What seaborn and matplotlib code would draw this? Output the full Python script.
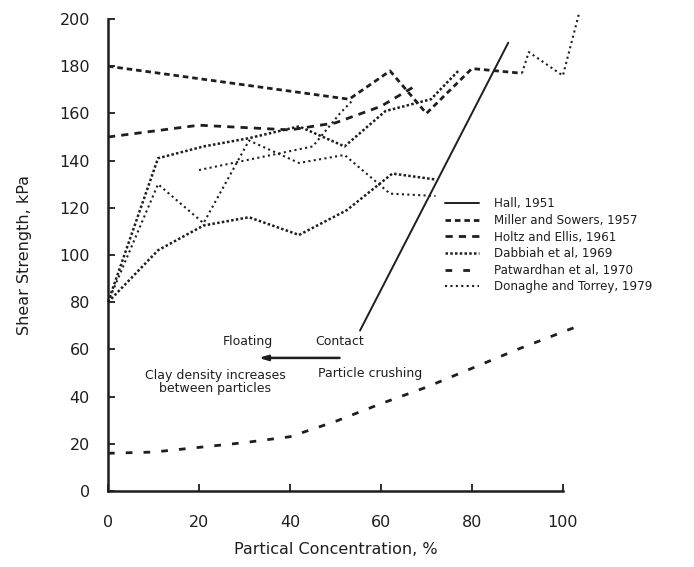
import numpy as np
import pandas as pd
import matplotlib
matplotlib.use("Agg")
import matplotlib.pyplot as plt
import seaborn as sns

# values (particle concentration %, shear strength kPa)
hall_x = [55.4, 88]
hall_y = [68, 190]

miller_x = [0, 53, 62, 70, 80, 91]
miller_y = [180, 166, 178, 160, 179, 177]

holtz_x = [0, 20, 40, 50, 60, 67]
holtz_y = [150, 155, 153, 156, 163, 171]

dabbiah_a_x = [0, 11, 21, 31, 42, 52, 61, 71, 77]
dabbiah_a_y = [80, 141, 146, 149.5, 154.5, 146, 161, 166, 178]
dabbiah_b_x = [0, 11, 21, 31, 42, 52.5, 62.5, 72]
dabbiah_b_y = [80, 102, 112.5, 116, 108.5, 119, 134.5, 132]

patwardhan_x = [0, 10, 20, 30, 40, 50, 60, 70, 80, 90, 103.5]
patwardhan_y = [16, 16.5, 18.5, 20.5, 23, 29.5, 37, 44, 52, 60, 70]

donaghe_a_x = [0, 11, 21, 31, 42, 52, 62, 72]
donaghe_a_y = [80, 130, 113.5, 148.5, 139, 142.4, 126, 125]
donaghe_b_x = [20, 45, 51, 54]
donaghe_b_y = [136, 146, 160, 166]
donaghe_c_x = [91, 92.5, 100, 103.5]
donaghe_c_y = [177, 186, 176, 202]

x_ticks = [0, 20, 40, 60, 80, 100]
y_ticks = [0, 20, 40, 60, 80, 100, 120, 140, 160, 180, 200]

sns.set_style("ticks")
plt.rcParams["font.family"] = ["DejaVu Sans"]

fig = plt.figure(figsize=(6.94, 5.67), dpi=100)
ax = fig.add_axes([0.1556, 0.134, 0.6555, 0.8325])

ink = "#1e1e1e"
# (label, list of segments, linestyle, linewidth)
series = [
    ("Hall, 1951", [(hall_x, hall_y)], "-", 1.4),
    ("Miller and Sowers, 1957", [(miller_x, miller_y)], (0, (2, 1.4)), 2.0),
    ("Holtz and Ellis, 1961", [(holtz_x, holtz_y)], (0, (2.6, 2.2)), 2.0),
    ("Dabbiah et al, 1969", [(dabbiah_a_x, dabbiah_a_y), (dabbiah_b_x, dabbiah_b_y)],
     (0, (1, 0.9)), 1.8),
    ("Patwardhan et al, 1970", [(patwardhan_x, patwardhan_y)], (0, (2.4, 4)), 2.0),
    ("Donaghe and Torrey, 1979",
     [(donaghe_a_x, donaghe_a_y), (donaghe_b_x, donaghe_b_y), (donaghe_c_x, donaghe_c_y)],
     (0, (1, 1.6)), 1.5),
]

for name, segs, ls, lw in series:
    for i, (xs, ys) in enumerate(segs):
        sns.lineplot(x=xs, y=ys, ax=ax, color=ink, linestyle=ls, linewidth=lw,
                     label=name if i == 0 else None, sort=False, estimator=None,
                     clip_on=False)

ax.set_xlim(0, 100)
ax.set_ylim(0, 200)
ax.set_xticks(x_ticks)
ax.set_yticks(y_ticks)
ax.tick_params(direction="in", length=5, width=1.3, labelsize=11.5, colors=ink)
ax.tick_params(axis="x", pad=17)
ax.tick_params(axis="y", pad=13)
sns.despine(ax=ax)
for side in ["left", "bottom"]:
    ax.spines[side].set_linewidth(1.8)
    ax.spines[side].set_color(ink)

ax.set_xlabel("Partical Concentration, %", fontsize=11.5, labelpad=9, color=ink)
ax.set_ylabel("Shear Strength, kPa", fontsize=11.5, labelpad=20, color=ink)

# annotations
ax.text(30.7, 63.5, "Floating", fontsize=9, ha="center", va="center", color=ink)
ax.text(51, 63.5, "Contact", fontsize=9, ha="center", va="center", color=ink)
ax.annotate("", xy=(32.5, 56.4), xytext=(51.5, 56.4),
            arrowprops=dict(arrowstyle="-|>,head_length=0.5,head_width=0.15",
                            color=ink, lw=1.8))
ax.text(23.5, 46, "Clay density increases\nbetween particles", fontsize=9,
        ha="center", va="center", linespacing=1.0, color=ink)
ax.text(57.7, 50, "Particle crushing", fontsize=9, ha="center", va="center", color=ink)

leg = ax.legend(loc="upper left", bbox_to_anchor=(0.73, 0.632), frameon=False,
                fontsize=8.6, handlelength=2.9, handletextpad=1.2,
                labelspacing=0.3, borderaxespad=0)
for t in leg.get_texts():
    t.set_color(ink)

fig.savefig("out.png", dpi=100)
